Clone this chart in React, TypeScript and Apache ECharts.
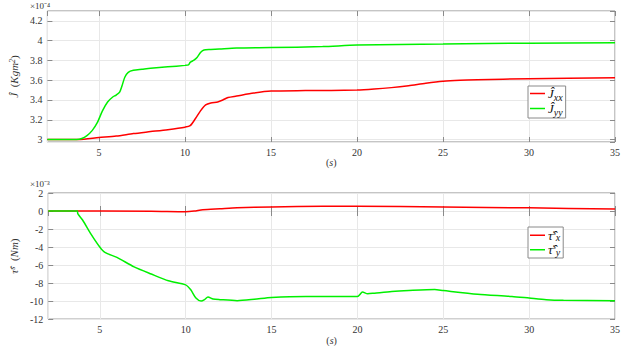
import React, { useEffect, useRef } from 'react';
import * as echarts from 'echarts';

// time (s)
const tJxx = [2, 3.8, 5, 6, 7, 8, 9, 10, 10.3, 10.6, 10.9, 11.2, 11.5, 11.9, 12.2, 12.5, 13, 14, 15, 17, 20, 21, 22, 23, 24, 25, 26, 27, 30, 35];
// J_xx (x 1e-4 Kg m^2)
const Jxx = [3.0, 3.0, 3.02, 3.035, 3.06, 3.08, 3.1, 3.125, 3.14, 3.21, 3.29, 3.35, 3.37, 3.38, 3.4, 3.425, 3.44, 3.47, 3.49, 3.495, 3.5, 3.51, 3.525, 3.545, 3.57, 3.59, 3.6, 3.605, 3.615, 3.625];

const tJyy = [2, 3.7, 4.0, 4.3, 4.6, 4.9, 5.2, 5.5, 5.8, 6.0, 6.2, 6.35, 6.5, 6.7, 7.0, 7.5, 8, 9, 10, 10.2, 10.3, 10.5, 10.7, 10.9, 11.1, 11.5, 12, 13, 15, 18, 20, 25, 30, 35];
const Jyy = [3.0, 3.0, 3.01, 3.04, 3.09, 3.17, 3.29, 3.38, 3.43, 3.45, 3.48, 3.55, 3.63, 3.68, 3.7, 3.71, 3.72, 3.735, 3.75, 3.755, 3.78, 3.8, 3.83, 3.88, 3.905, 3.91, 3.915, 3.925, 3.93, 3.94, 3.955, 3.965, 3.975, 3.98];

const tTx = [2, 8, 10, 10.5, 11, 12, 13, 15, 18, 20, 25, 30, 35];
// tau_x (x 1e-3 Nm)
const Tx = [0, -0.02, -0.08, 0.0, 0.15, 0.25, 0.35, 0.45, 0.52, 0.52, 0.45, 0.35, 0.22];

const tTy = [2, 3.7, 3.72, 4.0, 4.5, 5.0, 5.3, 6, 7, 8, 9, 10, 10.3, 10.6, 10.9, 11.1, 11.3, 11.6, 12, 13, 14, 15, 17, 20, 20.3, 20.6, 21, 22, 23, 24.5, 25, 27, 29, 30, 31, 32, 35];
const Ty = [0, 0, -0.3, -1.0, -2.6, -4.0, -4.6, -5.15, -6.2, -7.0, -7.75, -8.2, -8.75, -9.66, -10.0, -9.84, -9.55, -9.77, -9.84, -9.95, -9.8, -9.6, -9.48, -9.5, -9.0, -9.19, -9.12, -8.94, -8.83, -8.72, -8.83, -9.23, -9.48, -9.66, -9.84, -9.91, -9.95];

const xMin = 2;
const xMax = 35;

const FONT = 'Liberation Serif';
const GRID_COLOR = '#e8e8e8';
const AXIS_COLOR = '#8a8a8a';
const LABEL_COLOR = '#333';
const RED = '#ff0000';
const GREEN = '#00f000';

const zip = (t: number[], v: number[]) => t.map((x, i) => [x, v[i]]);

function richStyles(lh: number) {
  return {
    i: { fontFamily: FONT, fontStyle: 'italic', fontSize: 13, color: '#111', verticalAlign: 'middle', lineHeight: lh },
    sub: { fontFamily: FONT, fontStyle: 'italic', fontSize: 10, color: '#111', verticalAlign: 'bottom', lineHeight: lh },
    sup: { fontFamily: FONT, fontStyle: 'italic', fontSize: 8, color: '#111', verticalAlign: 'top', lineHeight: lh },
  };
}

function xAxes(gridIndex: number) {
  return [
    {
      type: 'value', gridIndex, min: xMin, max: xMax, position: 'bottom',
      axisLine: { show: false },
      axisTick: { inside: true, length: 5, lineStyle: { color: AXIS_COLOR } },
      axisLabel: { showMinLabel: false, fontFamily: FONT, fontSize: 10, color: LABEL_COLOR, margin: 5 },
      splitLine: { show: true, lineStyle: { color: GRID_COLOR, width: 1 } },
      name: '({i|s})', nameLocation: 'middle', nameGap: gridIndex === 0 ? 11 : 14,
      nameTextStyle: { fontFamily: FONT, fontSize: 10, color: LABEL_COLOR, rich: { i: { fontFamily: FONT, fontStyle: 'italic', fontSize: 10, color: LABEL_COLOR } } },
    },
    {
      type: 'value', gridIndex, min: xMin, max: xMax, position: 'top',
      axisLine: { show: false },
      axisTick: { inside: true, length: 5, lineStyle: { color: AXIS_COLOR } },
      axisLabel: { show: false },
      splitLine: { show: false },
    },
  ];
}

function yAxes(gridIndex: number, min: number, max: number, interval: number | undefined, name: string) {
  const base: any = {
    type: 'value', gridIndex, min, max,
    axisLine: { show: false },
    axisTick: { inside: true, length: 5, lineStyle: { color: AXIS_COLOR } },
  };
  if (interval !== undefined) base.interval = interval; else base.splitNumber = 7;
  return [
    {
      ...base, position: 'left',
      axisLabel: { showMinLabel: interval !== undefined, showMaxLabel: interval !== undefined, fontFamily: FONT, fontSize: 10, color: LABEL_COLOR, margin: 5 },
      splitLine: { show: true, lineStyle: { color: GRID_COLOR, width: 1 } },
      name, nameLocation: 'middle', nameGap: 16,
      nameTextStyle: { fontFamily: FONT, fontSize: 11, color: LABEL_COLOR, rich: {
        i: { fontFamily: FONT, fontStyle: 'italic', fontSize: 11, color: LABEL_COLOR },
        n: { fontFamily: FONT, fontSize: 11, color: LABEL_COLOR },
        sup: { fontFamily: FONT, fontStyle: 'italic', fontSize: 8, color: LABEL_COLOR, verticalAlign: 'top' },
      } },
    },
    {
      ...base, position: 'right',
      axisLabel: { show: false },
      splitLine: { show: false },
    },
  ];
}

const legendNames: Record<string, string> = {
  Jxx: '{i|Ĵ}{sub|xx}',
  Jyy: '{i|Ĵ}{sub|yy}',
  Tx: '{i|τ̂}{sup|s}{sub|x}',
  Ty: '{i|τ̂}{sup|s}{sub|y}',
};

function legend(data: string[], left: number, top: number, lh: number) {
  return {
    data, left, top, orient: 'vertical',
    icon: 'rect', itemWidth: 15, itemHeight: 1.5, itemGap: 0,
    padding: [1, 3, 1, 2],
    backgroundColor: '#fff', borderColor: '#8a8a8a', borderWidth: 1, borderRadius: 0,
    formatter: (name: string) => legendNames[name],
    textStyle: { fontFamily: FONT, fontSize: 11, color: '#111', padding: [0, 0, 0, -2], rich: richStyles(lh) },
  };
}

export default function App() {
  const ref = useRef<HTMLDivElement>(null);
  useEffect(() => {
    const chart = echarts.init(ref.current!, null, { renderer: 'svg' });
    const option: any = {
      animation: false,
      backgroundColor: '#fff',
      grid: [
        { left: 28, right: 6, top: 11, height: 131, show: true, borderColor: AXIS_COLOR, borderWidth: 1, backgroundColor: '#fff' },
        { left: 28, right: 6, top: 193, height: 129, show: true, borderColor: AXIS_COLOR, borderWidth: 1, backgroundColor: '#fff' },
      ],
      xAxis: [...xAxes(0), ...xAxes(1)],
      yAxis: [
        ...yAxes(0, 2.975, 4.3, undefined, '{i|Ĵ}{n|  (}{i|Kgm}{sup|2}{n|)}'),
        ...yAxes(1, -12, 2, 2, '{i|τ̂}{sup|s}{n|  (}{i|Nm}{n|)}'),
      ],
      legend: [legend(['Jxx', 'Jyy'], 528, 86, 17), legend(['Tx', 'Ty'], 528, 227, 14.5)],
      graphic: [
        { type: 'text', left: 30, top: 1, style: { text: '×10⁻⁴', font: `9px ${FONT}`, fill: LABEL_COLOR } },
        { type: 'text', left: 30, top: 179, style: { text: '×10⁻³', font: `9px ${FONT}`, fill: LABEL_COLOR } },
      ],
      series: [
        { name: 'Jxx', type: 'line', xAxisIndex: 0, yAxisIndex: 0, data: zip(tJxx, Jxx), showSymbol: false, smooth: 0.25, lineStyle: { color: RED, width: 1.5 }, itemStyle: { color: RED } },
        { name: 'Jyy', type: 'line', xAxisIndex: 0, yAxisIndex: 0, data: zip(tJyy, Jyy), showSymbol: false, smooth: 0.25, lineStyle: { color: GREEN, width: 1.5 }, itemStyle: { color: GREEN } },
        { name: 'Tx', type: 'line', xAxisIndex: 2, yAxisIndex: 2, data: zip(tTx, Tx), showSymbol: false, smooth: 0.25, lineStyle: { color: RED, width: 1.5 }, itemStyle: { color: RED } },
        { name: 'Ty', type: 'line', xAxisIndex: 2, yAxisIndex: 2, data: zip(tTy, Ty), showSymbol: false, smooth: 0.25, lineStyle: { color: GREEN, width: 1.5 }, itemStyle: { color: GREEN } },
      ],
    };
    chart.setOption(option);
    return () => chart.dispose();
  }, []);
  return <div ref={ref} style={{ position: 'fixed', left: 0, top: 0, width: 623, height: 346, background: '#fff' }} />;
}
